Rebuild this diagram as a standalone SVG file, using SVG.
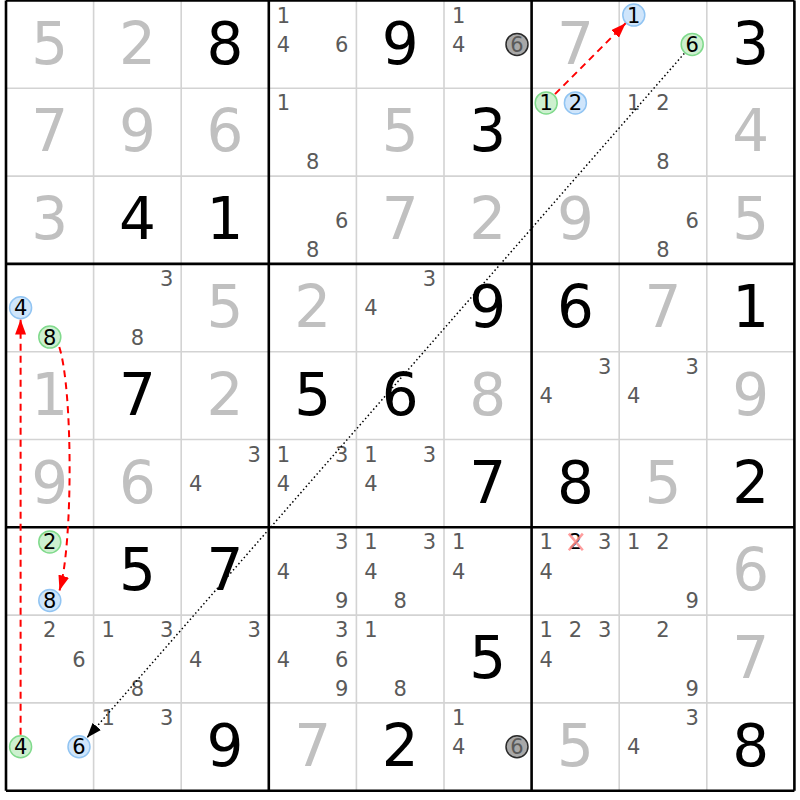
<svg xmlns="http://www.w3.org/2000/svg" width="800" height="800" viewBox="0 0 800 800">
<style>
.g{font-family:"DejaVu Sans","Liberation Sans",sans-serif;font-size:58px;text-anchor:middle;fill:#000}
.s{font-family:"DejaVu Sans","Liberation Sans",sans-serif;font-size:58px;text-anchor:middle;fill:#c0c0c0}
.c{font-family:"DejaVu Sans","Liberation Sans",sans-serif;font-size:21px;text-anchor:middle;fill:#5a5a5a}
.k{font-family:"DejaVu Sans","Liberation Sans",sans-serif;font-size:21px;text-anchor:middle;fill:#000}
.cb{fill:#cfe5fb;stroke:#91c4f2;stroke-width:1.5}
.cg{fill:#cdf0cf;stroke:#80da8c;stroke-width:1.5}
.cx{fill:#a8a8a8;stroke:#2a2a2a;stroke-width:1.5}
.thin{stroke:#d3d3d3;stroke-width:1.6;fill:none}
.thick{stroke:#000;stroke-width:2.6;fill:none}
.red{stroke:#ff0000;stroke-width:2;stroke-dasharray:7 5;fill:none}
.dot{stroke:#000;stroke-width:1.5;stroke-dasharray:1.5 2.6;fill:none}
.elim{stroke:#ff8c8c;stroke-width:2.5;stroke-opacity:0.85}
</style>
<defs>
<marker id="ar" markerUnits="userSpaceOnUse" markerWidth="16" markerHeight="11" refX="15" refY="5.5" orient="auto"><path d="M0,0 L15,5.5 L0,11 z" fill="#ff0000"/></marker>
<marker id="ak" markerUnits="userSpaceOnUse" markerWidth="16" markerHeight="11" refX="15" refY="5.5" orient="auto"><path d="M0,0 L15,5.5 L0,11 z" fill="#000"/></marker>
</defs>
<rect x="0" y="0" width="800" height="800" fill="#fff"/>
<g id="grid">
<path class="thin" d="M93.6,0.5V790.7M181.2,0.5V790.7M356.4,0.5V790.7M444,0.5V790.7M619.2,0.5V790.7M706.8,0.5V790.7M6,88.3H794.4M6,176.1H794.4M6,351.7H794.4M6,439.5H794.4M6,615.1H794.4M6,702.9H794.4"/>
<path class="thick" d="M6,0.5V790.7M268.8,0.5V790.7M531.6,0.5V790.7M794.4,0.5V790.7M6,0.5H794.4M6,263.9H794.4M6,527.3H794.4M6,790.7H794.4"/>
</g>
<!-- Row 1 -->
<g id="r1c1" transform="translate(6,0.5)"><text class="s" x="43.8" y="63">5</text></g>
<g id="r1c2" transform="translate(93.6,0.5)"><text class="s" x="43.8" y="63">2</text></g>
<g id="r1c3" transform="translate(181.2,0.5)"><text class="g" x="43.8" y="63">8</text></g>
<g id="r1c4" transform="translate(268.8,0.5)"><text class="c" x="14.6" y="22.2">1</text><text class="c" x="14.6" y="51.5">4</text><text class="c" x="73" y="51.5">6</text></g>
<g id="r1c5" transform="translate(356.4,0.5)"><text class="g" x="43.8" y="63">9</text></g>
<g id="r1c6" transform="translate(444,0.5)"><text class="c" x="14.6" y="22.2">1</text><text class="c" x="14.6" y="51.5">4</text><circle class="cx" cx="73" cy="43.9" r="11"/><text class="c" x="73" y="51.5">6</text></g>
<g id="r1c7" transform="translate(531.6,0.5)"><text class="s" x="43.8" y="63">7</text></g>
<g id="r1c8" transform="translate(619.2,0.5)"><circle class="cb" cx="14.6" cy="14.6" r="11"/><text class="k" x="14.6" y="22.2">1</text><circle class="cg" cx="73" cy="43.9" r="11"/><text class="k" x="73" y="51.5">6</text></g>
<g id="r1c9" transform="translate(706.8,0.5)"><text class="g" x="43.8" y="63">3</text></g>
<!-- Row 2 -->
<g id="r2c1" transform="translate(6,88.3)"><text class="s" x="43.8" y="63">7</text></g>
<g id="r2c2" transform="translate(93.6,88.3)"><text class="s" x="43.8" y="63">9</text></g>
<g id="r2c3" transform="translate(181.2,88.3)"><text class="s" x="43.8" y="63">6</text></g>
<g id="r2c4" transform="translate(268.8,88.3)"><text class="c" x="14.6" y="22.2">1</text><text class="c" x="43.8" y="80.8">8</text></g>
<g id="r2c5" transform="translate(356.4,88.3)"><text class="s" x="43.8" y="63">5</text></g>
<g id="r2c6" transform="translate(444,88.3)"><text class="g" x="43.8" y="63">3</text></g>
<g id="r2c7" transform="translate(531.6,88.3)"><circle class="cg" cx="14.6" cy="14.6" r="11"/><text class="k" x="14.6" y="22.2">1</text><circle class="cb" cx="43.8" cy="14.6" r="11"/><text class="k" x="43.8" y="22.2">2</text></g>
<g id="r2c8" transform="translate(619.2,88.3)"><text class="c" x="14.6" y="22.2">1</text><text class="c" x="43.8" y="22.2">2</text><text class="c" x="43.8" y="80.8">8</text></g>
<g id="r2c9" transform="translate(706.8,88.3)"><text class="s" x="43.8" y="63">4</text></g>
<!-- Row 3 -->
<g id="r3c1" transform="translate(6,176.1)"><text class="s" x="43.8" y="63">3</text></g>
<g id="r3c2" transform="translate(93.6,176.1)"><text class="g" x="43.8" y="63">4</text></g>
<g id="r3c3" transform="translate(181.2,176.1)"><text class="g" x="43.8" y="63">1</text></g>
<g id="r3c4" transform="translate(268.8,176.1)"><text class="c" x="73" y="51.5">6</text><text class="c" x="43.8" y="80.8">8</text></g>
<g id="r3c5" transform="translate(356.4,176.1)"><text class="s" x="43.8" y="63">7</text></g>
<g id="r3c6" transform="translate(444,176.1)"><text class="s" x="43.8" y="63">2</text></g>
<g id="r3c7" transform="translate(531.6,176.1)"><text class="s" x="43.8" y="63">9</text></g>
<g id="r3c8" transform="translate(619.2,176.1)"><text class="c" x="73" y="51.5">6</text><text class="c" x="43.8" y="80.8">8</text></g>
<g id="r3c9" transform="translate(706.8,176.1)"><text class="s" x="43.8" y="63">5</text></g>
<!-- Row 4 -->
<g id="r4c1" transform="translate(6,263.9)"><circle class="cb" cx="14.6" cy="43.9" r="11"/><text class="k" x="14.6" y="51.5">4</text><circle class="cg" cx="43.8" cy="73.2" r="11"/><text class="k" x="43.8" y="80.8">8</text></g>
<g id="r4c2" transform="translate(93.6,263.9)"><text class="c" x="73" y="22.2">3</text><text class="c" x="43.8" y="80.8">8</text></g>
<g id="r4c3" transform="translate(181.2,263.9)"><text class="s" x="43.8" y="63">5</text></g>
<g id="r4c4" transform="translate(268.8,263.9)"><text class="s" x="43.8" y="63">2</text></g>
<g id="r4c5" transform="translate(356.4,263.9)"><text class="c" x="73" y="22.2">3</text><text class="c" x="14.6" y="51.5">4</text></g>
<g id="r4c6" transform="translate(444,263.9)"><text class="g" x="43.8" y="63">9</text></g>
<g id="r4c7" transform="translate(531.6,263.9)"><text class="g" x="43.8" y="63">6</text></g>
<g id="r4c8" transform="translate(619.2,263.9)"><text class="s" x="43.8" y="63">7</text></g>
<g id="r4c9" transform="translate(706.8,263.9)"><text class="g" x="43.8" y="63">1</text></g>
<!-- Row 5 -->
<g id="r5c1" transform="translate(6,351.7)"><text class="s" x="43.8" y="63">1</text></g>
<g id="r5c2" transform="translate(93.6,351.7)"><text class="g" x="43.8" y="63">7</text></g>
<g id="r5c3" transform="translate(181.2,351.7)"><text class="s" x="43.8" y="63">2</text></g>
<g id="r5c4" transform="translate(268.8,351.7)"><text class="g" x="43.8" y="63">5</text></g>
<g id="r5c5" transform="translate(356.4,351.7)"><text class="g" x="43.8" y="63">6</text></g>
<g id="r5c6" transform="translate(444,351.7)"><text class="s" x="43.8" y="63">8</text></g>
<g id="r5c7" transform="translate(531.6,351.7)"><text class="c" x="73" y="22.2">3</text><text class="c" x="14.6" y="51.5">4</text></g>
<g id="r5c8" transform="translate(619.2,351.7)"><text class="c" x="73" y="22.2">3</text><text class="c" x="14.6" y="51.5">4</text></g>
<g id="r5c9" transform="translate(706.8,351.7)"><text class="s" x="43.8" y="63">9</text></g>
<!-- Row 6 -->
<g id="r6c1" transform="translate(6,439.5)"><text class="s" x="43.8" y="63">9</text></g>
<g id="r6c2" transform="translate(93.6,439.5)"><text class="s" x="43.8" y="63">6</text></g>
<g id="r6c3" transform="translate(181.2,439.5)"><text class="c" x="73" y="22.2">3</text><text class="c" x="14.6" y="51.5">4</text></g>
<g id="r6c4" transform="translate(268.8,439.5)"><text class="c" x="14.6" y="22.2">1</text><text class="c" x="73" y="22.2">3</text><text class="c" x="14.6" y="51.5">4</text></g>
<g id="r6c5" transform="translate(356.4,439.5)"><text class="c" x="14.6" y="22.2">1</text><text class="c" x="73" y="22.2">3</text><text class="c" x="14.6" y="51.5">4</text></g>
<g id="r6c6" transform="translate(444,439.5)"><text class="g" x="43.8" y="63">7</text></g>
<g id="r6c7" transform="translate(531.6,439.5)"><text class="g" x="43.8" y="63">8</text></g>
<g id="r6c8" transform="translate(619.2,439.5)"><text class="s" x="43.8" y="63">5</text></g>
<g id="r6c9" transform="translate(706.8,439.5)"><text class="g" x="43.8" y="63">2</text></g>
<!-- Row 7 -->
<g id="r7c1" transform="translate(6,527.3)"><circle class="cg" cx="43.8" cy="14.6" r="11"/><text class="k" x="43.8" y="22.2">2</text><circle class="cb" cx="43.8" cy="73.2" r="11"/><text class="k" x="43.8" y="80.8">8</text></g>
<g id="r7c2" transform="translate(93.6,527.3)"><text class="g" x="43.8" y="63">5</text></g>
<g id="r7c3" transform="translate(181.2,527.3)"><text class="g" x="43.8" y="63">7</text></g>
<g id="r7c4" transform="translate(268.8,527.3)"><text class="c" x="73" y="22.2">3</text><text class="c" x="14.6" y="51.5">4</text><text class="c" x="73" y="80.8">9</text></g>
<g id="r7c5" transform="translate(356.4,527.3)"><text class="c" x="14.6" y="22.2">1</text><text class="c" x="73" y="22.2">3</text><text class="c" x="14.6" y="51.5">4</text><text class="c" x="43.8" y="80.8">8</text></g>
<g id="r7c6" transform="translate(444,527.3)"><text class="c" x="14.6" y="22.2">1</text><text class="c" x="14.6" y="51.5">4</text></g>
<g id="r7c7" transform="translate(531.6,527.3)"><text class="c" x="14.6" y="22.2">1</text><text class="k" x="43.8" y="22.2">2</text><path class="elim" d="M37.2,6.3L51.2,22.9M51.2,6.3L37.2,22.9"/><text class="c" x="73" y="22.2">3</text><text class="c" x="14.6" y="51.5">4</text></g>
<g id="r7c8" transform="translate(619.2,527.3)"><text class="c" x="14.6" y="22.2">1</text><text class="c" x="43.8" y="22.2">2</text><text class="c" x="73" y="80.8">9</text></g>
<g id="r7c9" transform="translate(706.8,527.3)"><text class="s" x="43.8" y="63">6</text></g>
<!-- Row 8 -->
<g id="r8c1" transform="translate(6,615.1)"><text class="c" x="43.8" y="22.2">2</text><text class="c" x="73" y="51.5">6</text></g>
<g id="r8c2" transform="translate(93.6,615.1)"><text class="c" x="14.6" y="22.2">1</text><text class="c" x="73" y="22.2">3</text><text class="c" x="43.8" y="80.8">8</text></g>
<g id="r8c3" transform="translate(181.2,615.1)"><text class="c" x="73" y="22.2">3</text><text class="c" x="14.6" y="51.5">4</text></g>
<g id="r8c4" transform="translate(268.8,615.1)"><text class="c" x="73" y="22.2">3</text><text class="c" x="14.6" y="51.5">4</text><text class="c" x="73" y="51.5">6</text><text class="c" x="73" y="80.8">9</text></g>
<g id="r8c5" transform="translate(356.4,615.1)"><text class="c" x="14.6" y="22.2">1</text><text class="c" x="43.8" y="80.8">8</text></g>
<g id="r8c6" transform="translate(444,615.1)"><text class="g" x="43.8" y="63">5</text></g>
<g id="r8c7" transform="translate(531.6,615.1)"><text class="c" x="14.6" y="22.2">1</text><text class="c" x="43.8" y="22.2">2</text><text class="c" x="73" y="22.2">3</text><text class="c" x="14.6" y="51.5">4</text></g>
<g id="r8c8" transform="translate(619.2,615.1)"><text class="c" x="43.8" y="22.2">2</text><text class="c" x="73" y="80.8">9</text></g>
<g id="r8c9" transform="translate(706.8,615.1)"><text class="s" x="43.8" y="63">7</text></g>
<!-- Row 9 -->
<g id="r9c1" transform="translate(6,702.9)"><circle class="cg" cx="14.6" cy="43.9" r="11"/><text class="k" x="14.6" y="51.5">4</text><circle class="cb" cx="73" cy="43.9" r="11"/><text class="k" x="73" y="51.5">6</text></g>
<g id="r9c2" transform="translate(93.6,702.9)"><text class="c" x="14.6" y="22.2">1</text><text class="c" x="73" y="22.2">3</text></g>
<g id="r9c3" transform="translate(181.2,702.9)"><text class="g" x="43.8" y="63">9</text></g>
<g id="r9c4" transform="translate(268.8,702.9)"><text class="s" x="43.8" y="63">7</text></g>
<g id="r9c5" transform="translate(356.4,702.9)"><text class="g" x="43.8" y="63">2</text></g>
<g id="r9c6" transform="translate(444,702.9)"><text class="c" x="14.6" y="22.2">1</text><text class="c" x="14.6" y="51.5">4</text><circle class="cx" cx="73" cy="43.9" r="11"/><text class="c" x="73" y="51.5">6</text></g>
<g id="r9c7" transform="translate(531.6,702.9)"><text class="s" x="43.8" y="63">5</text></g>
<g id="r9c8" transform="translate(619.2,702.9)"><text class="c" x="73" y="22.2">3</text><text class="c" x="14.6" y="51.5">4</text></g>
<g id="r9c9" transform="translate(706.8,702.9)"><text class="g" x="43.8" y="63">8</text></g>
<g id="connectors">
<path class="red" d="M555,94.1L625.6,23.3" marker-end="url(#ar)"/>
<path class="dot" d="M684.3,53.4L86.9,737.8" marker-end="url(#ak)"/>
<path class="red" d="M59.3,347C73,390 73,545 59.5,590.5" marker-end="url(#ar)"/>
<path class="red" d="M20.6,734.8L20.6,319.5" marker-end="url(#ar)"/>
</g>
</svg>
